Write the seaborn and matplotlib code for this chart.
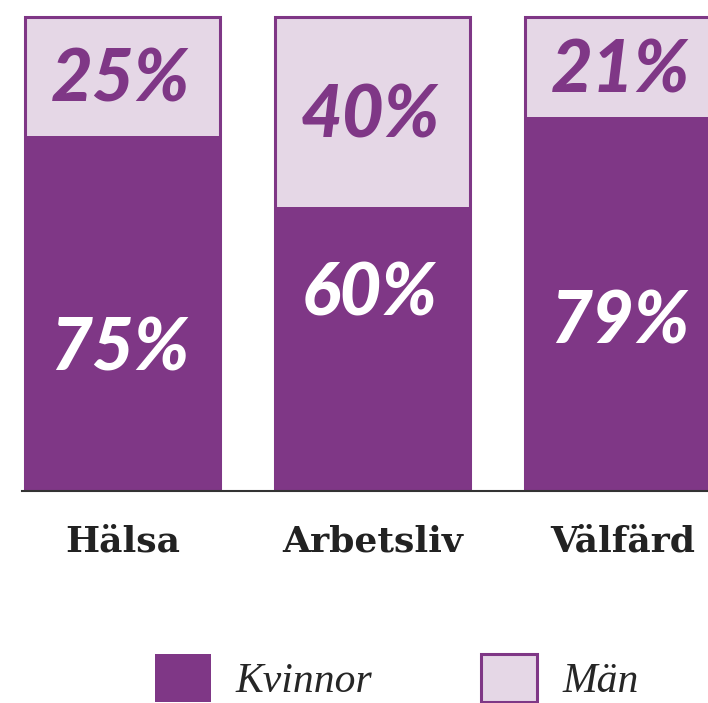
import numpy as np
import pandas as pd
import matplotlib
matplotlib.use('Agg')
import matplotlib.pyplot as plt
import seaborn as sns
from matplotlib.patches import Patch

# data
categories = ['Hälsa', 'Arbetsliv', 'Välfärd']
kvinnor = [75, 60, 79]
man = [25, 40, 21]
# y position (data units) for the white labels inside the purple part
kvinnor_label_y = [29.7, 41.4, 35.4]

PURPLE = '#7f3786'
LIGHT = '#e5d7e6'

sns.set_theme(style='white')

df = pd.DataFrame({'kategori': categories,
                   'kvinnor': kvinnor,
                   'man': man})
df['total'] = df['kvinnor'] + df['man']

fig = plt.figure(figsize=(7.08, 7.03), dpi=100)
ax = fig.add_axes([22 / 708, 1 - 491 / 703, 686 / 708, 491 / 703])

sns.barplot(data=df, x='kategori', y='total', color=LIGHT, saturation=1,
            edgecolor=PURPLE, linewidth=2.2, width=0.78, ax=ax)
sns.barplot(data=df, x='kategori', y='kvinnor', color=PURPLE, saturation=1,
            linewidth=0, width=0.78, ax=ax)

ax.set_xlim(-0.402, 2.342)
ax.set_ylim(0, 100 * 491 / 474)

for i, row in df.iterrows():
    ax.text(i - 0.01, row['kvinnor'] + row['man'] / 2 - 1, f"{row['man']}%", ha='center', va='center',
            color=PURPLE, fontsize=52, fontweight='black', fontstyle='italic', family='Lato')
    ax.text(i - 0.01, kvinnor_label_y[i], f"{row['kvinnor']}%", ha='center', va='center',
            color='white', fontsize=52, fontweight='black', fontstyle='italic', family='Lato')

for s in ['top', 'right', 'left']:
    ax.spines[s].set_visible(False)
ax.spines['bottom'].set_color('#333333')
ax.spines['bottom'].set_linewidth(1.5)
ax.set_xlabel('')
ax.set_ylabel('')
ax.set_yticks([])
ax.tick_params(axis='x', length=0, pad=24)
for lbl in ax.get_xticklabels():
    lbl.set_fontfamily('DejaVu Serif')
    lbl.set_fontweight('bold')
    lbl.set_fontsize(26)
    lbl.set_color('#222222')

handles = [Patch(facecolor=PURPLE, edgecolor=PURPLE, linewidth=0, label='Kvinnor'),
           Patch(facecolor=LIGHT, edgecolor=PURPLE, linewidth=2.2, label='Män')]
fig.legend(handles=handles, loc='lower left', bbox_to_anchor=(117 / 708, -0.052),
           ncol=2, frameon=False, handlelength=1.35, handleheight=1.4,
           handletextpad=0.6, columnspacing=2.6,
           prop={'family': 'Liberation Serif', 'style': 'italic', 'size': 30})

fig.savefig('out.png', dpi=100)
